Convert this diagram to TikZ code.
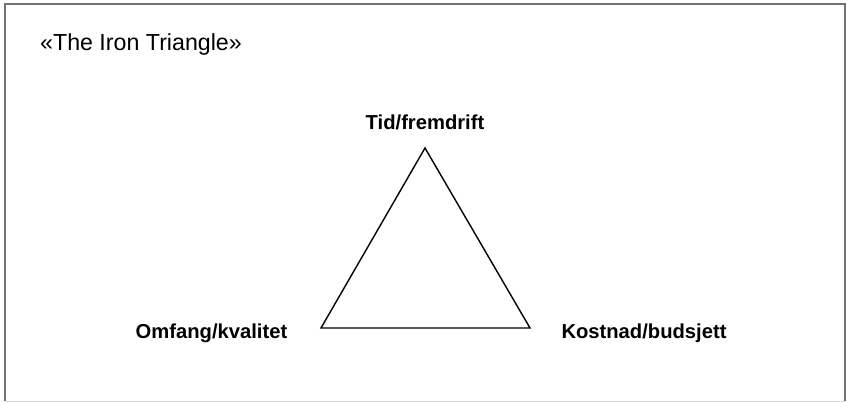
\documentclass[tikz,border=0pt]{standalone}
\usepackage{fontspec}
\setmainfont{Liberation Sans}
\usetikzlibrary{positioning,calc}

\tikzset{
    corner/.style={font=\bfseries\fontsize{20.2}{24}\selectfont, inner sep=0pt},
    title/.style={font=\fontsize{23.2}{28}\selectfont, inner sep=0pt, anchor=west}
}

\begin{document}
\begin{tikzpicture}[x=1pt, y=-1pt]
    \useasboundingbox (0,0) rectangle (847,403);
    \draw[black!55, line width=2pt] (5,401.5) -- (5,4) -- (845,4) -- (845,401.5);
    \draw[black!15, line width=1pt] (5,401.5) -- (845,401.5);

    \node[title] (heading) at (40,45) {«The Iron Triangle»};

    % corners of the triangle
    \coordinate (top) at (425,148);
    \coordinate (left) at (321,328);
    \coordinate (right) at (530,328);
    \draw[line width=1.4pt, line join=miter] (top) -- (left) -- (right) -- cycle;

    \node[corner] (time) at (425,122) {Tid/fremdrift};
    \node[corner] (scope) at (211.5,333) {Omfang/kvalitet};
    \node[corner] (cost) at (644,333) {Kostnad/budsjett};
\end{tikzpicture}
\end{document}
